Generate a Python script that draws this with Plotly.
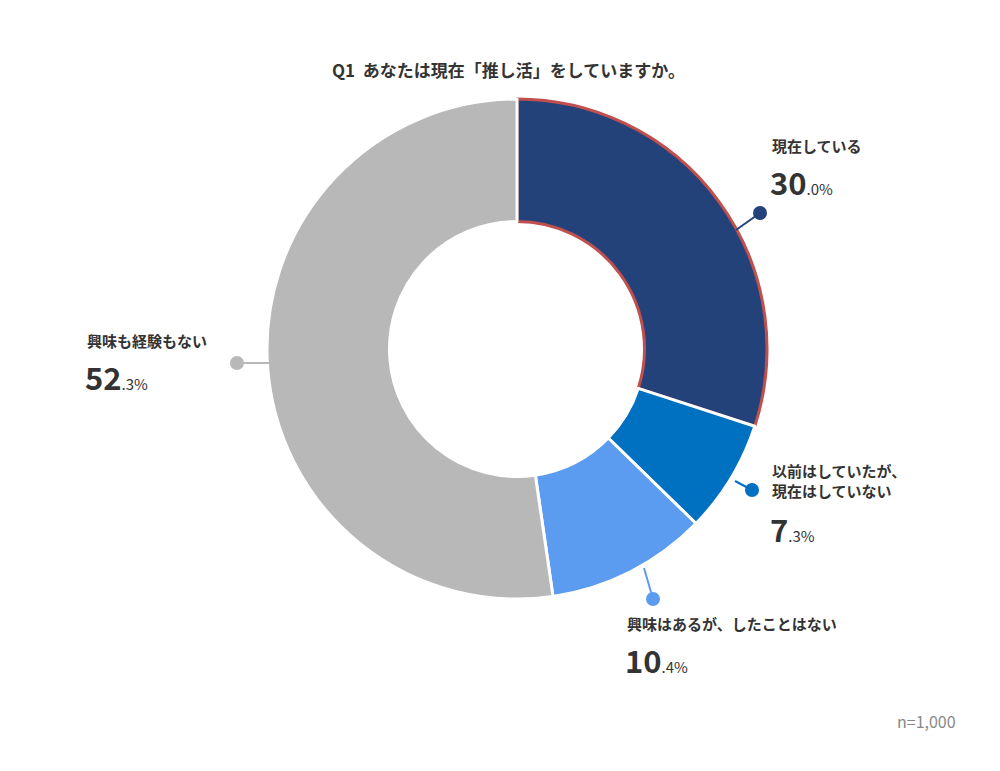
import plotly.graph_objects as go

labels = ["現在している", "以前はしていたが、<br>現在はしていない", "興味はあるが、したことはない", "興味も経験もない"]
values = [30.0, 7.3, 10.4, 52.3]
colors = ["#24427a", "#0070c0", "#5b9cf0", "#b8b8b8"]

W, H = 1000, 771
FONT = "Noto Sans CJK JP"


def px(x, y):
    return x / W, 1 - y / H


fig = go.Figure()
fig.add_trace(go.Pie(
    labels=labels, values=values, sort=False, direction="clockwise", rotation=0,
    hole=0.51, textinfo="none", hoverinfo="label+percent",
    marker=dict(colors=colors, line=dict(color=["#c0504d", "white", "white", "white"], width=[3, 3, 3, 3])),
    domain=dict(x=[259 / W, 759 / W], y=[1 - 591 / H, 1 - 91 / H]),
    showlegend=False,
))

# label positions (pixel) and leader lines
label_pos = [(762, 125), (762, 450), (617, 603), (77, 320)]
dots = [((752, 205), (728, 222)), ((744, 482), (727, 473)),
        ((645, 591), (636, 560)), ((229, 355), (262, 355))]

for i, (lab, v) in enumerate(zip(labels, values)):
    whole, frac = f"{v:.1f}".split(".")
    x, y = label_pos[i]
    ax, ay = px(x, y)
    fig.add_annotation(x=ax, y=ay, xref="paper", yref="paper", xanchor="left", yanchor="top",
                       showarrow=False, align="left",
                       text=f"<b>{lab}</b>", font=dict(family=FONT, size=15, color="#333"))
    nlines = lab.count("<br>") + 1
    ny = y + 22 * nlines + 2
    fig.add_annotation(x=ax - 0.002, y=px(0, ny)[1], xref="paper", yref="paper", xanchor="left", yanchor="top",
                       showarrow=False, align="left",
                       text=f"<b>{whole}</b><span style='font-size:15px'>.{frac}%</span>",
                       font=dict(family=FONT, size=31, color="#333"))
    (dx, dy), (ex, ey) = dots[i]
    x0, y0 = px(dx, dy)
    x1, y1 = px(ex, ey)
    fig.add_shape(type="line", xref="paper", yref="paper", x0=x0, y0=y0, x1=x1, y1=y1,
                  line=dict(color=colors[i], width=2))
    fig.add_shape(type="circle", xref="paper", yref="paper",
                  x0=(dx - 7) / W, x1=(dx + 7) / W, y0=1 - (dy + 7) / H, y1=1 - (dy - 7) / H,
                  fillcolor=colors[i], line=dict(width=0))

fig.add_annotation(x=0.5, y=px(0, 47)[1], xref="paper", yref="paper", showarrow=False,
                   text="<b>Q1  あなたは現在「推し活」をしていますか。</b>",
                   font=dict(family=FONT, size=17, color="#333"))
fig.add_annotation(x=px(950, 0)[0], y=px(0, 727)[1], xref="paper", yref="paper", showarrow=False,
                   xanchor="right", text="n=1,000", font=dict(family=FONT, size=16, color="#888"))

fig.update_layout(width=W, height=H, margin=dict(l=0, r=0, t=0, b=0),
                  paper_bgcolor="white", plot_bgcolor="white")
fig.write_html("out.html")
